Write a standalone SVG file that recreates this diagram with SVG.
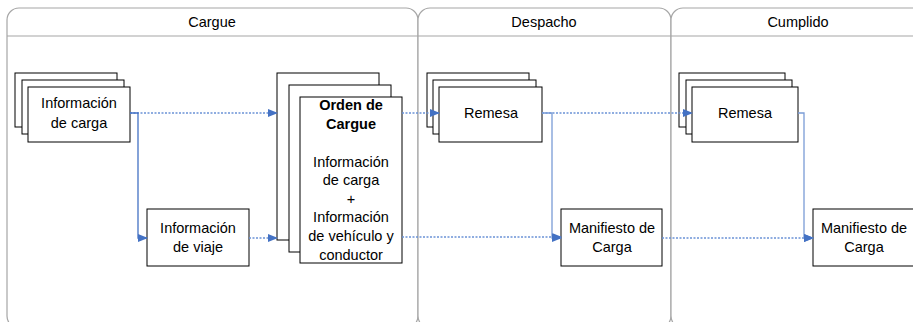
<svg xmlns="http://www.w3.org/2000/svg" width="913" height="322" viewBox="0 0 913 322">
<style>
.lane{fill:#fff;stroke:#a6a6a6;stroke-width:1.2}
.hdr{stroke:#a6a6a6;stroke-width:1.2}
.box{fill:#fff;stroke:#000;stroke-width:1}
.t{font-family:"Liberation Sans",Arial,sans-serif;font-size:14.5px;fill:#000;text-anchor:middle}
.b{font-weight:bold}
.solid{fill:none;stroke:#4472c4;stroke-width:1.3}
.solid2{fill:none;stroke:#7a9cd6;stroke-width:1.3}
.dot{fill:none;stroke:#6b93d6;stroke-width:1.3;stroke-dasharray:2,1.5}
</style>
<defs>
<marker id="ah" markerWidth="10" markerHeight="8" refX="9" refY="4" orient="auto" markerUnits="userSpaceOnUse">
<path d="M0,0 L10,4 L0,8 Z" fill="#4472c4"/>
</marker>
</defs>
<rect width="913" height="322" fill="#fff"/>
<g id="lanes">
<g id="lane-cargue">
<rect class="lane" x="7" y="8" width="411" height="320" rx="12" ry="12"/>
<text class="t" x="212" y="27">Cargue</text>
</g>
<g id="lane-despacho">
<rect class="lane" x="418" y="8" width="253" height="320" rx="12" ry="12"/>
<text class="t" x="544" y="27">Despacho</text>
</g>
<g id="lane-cumplido">
<rect class="lane" x="671" y="8" width="256" height="320" rx="12" ry="12"/>
<text class="t" x="798" y="27">Cumplido</text>
</g>
<line class="hdr" x1="7" y1="36" x2="913" y2="36"/>
</g>
<g id="info-carga">
<rect class="box" x="15" y="73" width="102" height="54"/>
<rect class="box" x="22" y="80" width="102" height="54"/>
<rect class="box" x="28" y="87" width="102" height="55"/>
<text class="t" x="79" y="108">Información</text>
<text class="t" x="79" y="128">de carga</text>
</g>
<g id="info-viaje">
<rect class="box" x="147" y="209" width="102" height="57"/>
<text class="t" x="198" y="233">Información</text>
<text class="t" x="198" y="252">de viaje</text>
</g>
<g id="orden-cargue">
<rect class="box" x="277" y="73" width="102" height="167"/>
<rect class="box" x="289" y="85" width="102" height="167"/>
<rect class="box" x="300" y="97" width="102" height="166"/>
<text class="t b" x="351" y="110">Orden de</text>
<text class="t b" x="351" y="129">Cargue</text>
<text class="t" x="351" y="167">Información</text>
<text class="t" x="351" y="185">de carga</text>
<text class="t" x="351" y="204">+</text>
<text class="t" x="351" y="222">Información</text>
<text class="t" x="351" y="241">de vehículo y</text>
<text class="t" x="351" y="260">conductor</text>
</g>
<g id="remesa-despacho">
<rect class="box" x="427" y="73" width="102" height="54"/>
<rect class="box" x="433" y="80" width="103" height="54"/>
<rect class="box" x="439" y="87" width="103" height="55"/>
<text class="t" x="491" y="118">Remesa</text>
</g>
<g id="manifiesto-despacho">
<rect class="box" x="561" y="209" width="101" height="57"/>
<text class="t" x="612" y="233">Manifiesto de</text>
<text class="t" x="612" y="252">Carga</text>
</g>
<g id="remesa-cumplido">
<rect class="box" x="679" y="73" width="106" height="54"/>
<rect class="box" x="686" y="80" width="106" height="54"/>
<rect class="box" x="692" y="87" width="106" height="55"/>
<text class="t" x="745" y="118">Remesa</text>
</g>
<g id="manifiesto-cumplido">
<rect class="box" x="813" y="209" width="101" height="57"/>
<text class="t" x="864" y="233">Manifiesto de</text>
<text class="t" x="864" y="252">Carga</text>
</g>
<g id="connectors">
<path class="dot" d="M130,113 H277" marker-end="url(#ah)"/>
<path class="solid" d="M130,113 H138 V238 H147" marker-end="url(#ah)"/>
<path class="dot" d="M249,238 H277" marker-end="url(#ah)"/>
<path class="dot" d="M402,113 H439" marker-end="url(#ah)"/>
<path class="dot" d="M402,237 H561" marker-end="url(#ah)"/>
<path class="dot" d="M542,113 H692" marker-end="url(#ah)"/>
<path class="solid2" d="M542,113 H552 V238 H561" marker-end="url(#ah)"/>
<path class="dot" d="M662,238 H813" marker-end="url(#ah)"/>
<path class="solid2" d="M798,113 H804 V238 H813" marker-end="url(#ah)"/>
</g>
</svg>
